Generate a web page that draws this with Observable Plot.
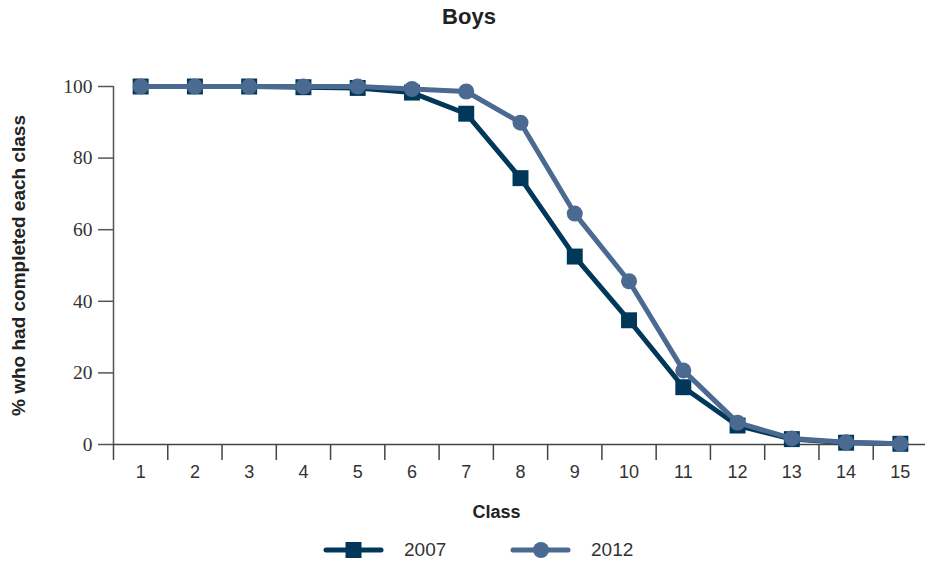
<!DOCTYPE html>
<html>
<head>
<meta charset="utf-8">
<script src="https://cdn.jsdelivr.net/npm/d3@7"></script>
<script src="https://cdn.jsdelivr.net/npm/@observablehq/plot@0.6"></script>
<style>
  html, body { margin: 0; padding: 0; background: #fff; }
  body { width: 925px; height: 562px; position: relative; overflow: hidden; font-family: "Liberation Sans", Arial, sans-serif; }
  #title { position: absolute; top: 4px; left: 0; width: 938px; text-align: center; font-weight: bold; font-size: 22px; color: #222; }
  #chart { position: absolute; top: 40px; left: 0; }
  #legend { position: absolute; top: 535px; left: 0; width: 925px; height: 30px; }
  .ytick text { font-family: "Liberation Serif", "Times New Roman", serif; }
</style>
</head>
<body>
<div id="title">Boys</div>
<div id="chart"></div>
<div id="legend"></div>
<script>
const classes = [1, 2, 3, 4, 5, 6, 7, 8, 9, 10, 11, 12, 13, 14, 15];
const values2007 = [100, 100, 100, 99.8, 99.6, 98.3, 92.4, 74.4, 52.5, 34.7, 16.0, 5.3, 1.5, 0.5, 0.2];
const values2012 = [100, 100, 100, 100, 100, 99.3, 98.6, 89.9, 64.5, 45.6, 20.7, 6.1, 1.7, 0.6, 0.2];
const seriesNames = ["2007", "2012"];
const seriesColors = ["#01385a", "#4b6a91"];
const yTicks = [0, 20, 40, 60, 80, 100];
const yLabel = "% who had completed each class";
const xLabel = "Class";

const data = [
  ...classes.map((c, i) => ({cls: c, value: values2007[i], series: seriesNames[0]})),
  ...classes.map((c, i) => ({cls: c, value: values2012[i], series: seriesNames[1]}))
];
const d07 = data.filter(d => d.series === seriesNames[0]);
const d12 = data.filter(d => d.series === seriesNames[1]);
const boundaries = classes.map(c => c - 0.5).concat([classes[classes.length - 1] + 0.5]);

const plot = Plot.plot({
  width: 925,
  height: 490,
  marginLeft: 113,
  marginRight: 0,
  marginTop: 46,
  marginBottom: 86,
  x: {type: "linear", domain: [0.5, 15.5], range: [113, 927]},
  y: {domain: [0, 100]},
  style: {fontFamily: "Liberation Sans, Arial, sans-serif", color: "#333", background: "white"},
  marks: [
    Plot.axisY({ticks: yTicks, tickSize: 15, tickPadding: 6, fontSize: 19.5, label: null, className: "ytick", stroke: "#555", strokeWidth: 1.5, fill: "#333"}),
    Plot.axisX({ticks: boundaries, tickSize: 16, tickFormat: () => "", label: null, stroke: "#444", strokeWidth: 1.5}),
    Plot.axisX({ticks: classes, tickSize: 0, tickPadding: 21, fontSize: 18, label: null, fill: "#333"}),
    Plot.ruleX([0.5], {y1: 0, y2: 100, stroke: "#555", strokeWidth: 1.5}),
    Plot.ruleY([0], {stroke: "#444", strokeWidth: 1.5}),
    Plot.text([yLabel], {frameAnchor: "left", textAnchor: "middle", rotate: -90, dx: -95, fontWeight: "bold", fontSize: 19, fill: "#222"}),
    Plot.text([xLabel], {frameAnchor: "bottom", dy: 73, dx: -23, fontWeight: "bold", fontSize: 18, fill: "#222"}),
    Plot.line(d07, {x: "cls", y: "value", stroke: seriesColors[0], strokeWidth: 5}),
    Plot.dot(d07, {x: "cls", y: "value", symbol: "square", r: 9, fill: seriesColors[0]}),
    Plot.line(d12, {x: "cls", y: "value", stroke: seriesColors[1], strokeWidth: 5}),
    Plot.dot(d12, {x: "cls", y: "value", symbol: "circle", r: 8, fill: seriesColors[1]})
  ]
});
document.getElementById("chart").appendChild(plot);

// Legend
const legendItems = [
  {name: seriesNames[0], color: seriesColors[0], symbol: "square", x: 326},
  {name: seriesNames[1], color: seriesColors[1], symbol: "circle", x: 513}
];
const ns = "http://www.w3.org/2000/svg";
const lsvg = document.createElementNS(ns, "svg");
lsvg.setAttribute("width", 925);
lsvg.setAttribute("height", 30);
for (const it of legendItems) {
  const ln = document.createElementNS(ns, "line");
  ln.setAttribute("x1", it.x); ln.setAttribute("x2", it.x + 55);
  ln.setAttribute("y1", 15); ln.setAttribute("y2", 15);
  ln.setAttribute("stroke", it.color); ln.setAttribute("stroke-width", 5);
  ln.setAttribute("stroke-linecap", "round");
  lsvg.appendChild(ln);
  let m;
  if (it.symbol === "square") {
    m = document.createElementNS(ns, "rect");
    m.setAttribute("x", it.x + 27.5 - 8); m.setAttribute("y", 7);
    m.setAttribute("width", 16); m.setAttribute("height", 16);
  } else {
    m = document.createElementNS(ns, "circle");
    m.setAttribute("cx", it.x + 28); m.setAttribute("cy", 15); m.setAttribute("r", 8);
  }
  m.setAttribute("fill", it.color);
  lsvg.appendChild(m);
  const t = document.createElementNS(ns, "text");
  t.setAttribute("x", it.x + 78); t.setAttribute("y", 21);
  t.setAttribute("font-size", 19);
  t.setAttribute("font-family", "Liberation Sans, Arial, sans-serif");
  t.setAttribute("fill", "#333");
  t.textContent = it.name;
  lsvg.appendChild(t);
}
document.getElementById("legend").appendChild(lsvg);
</script>
</body>
</html>
